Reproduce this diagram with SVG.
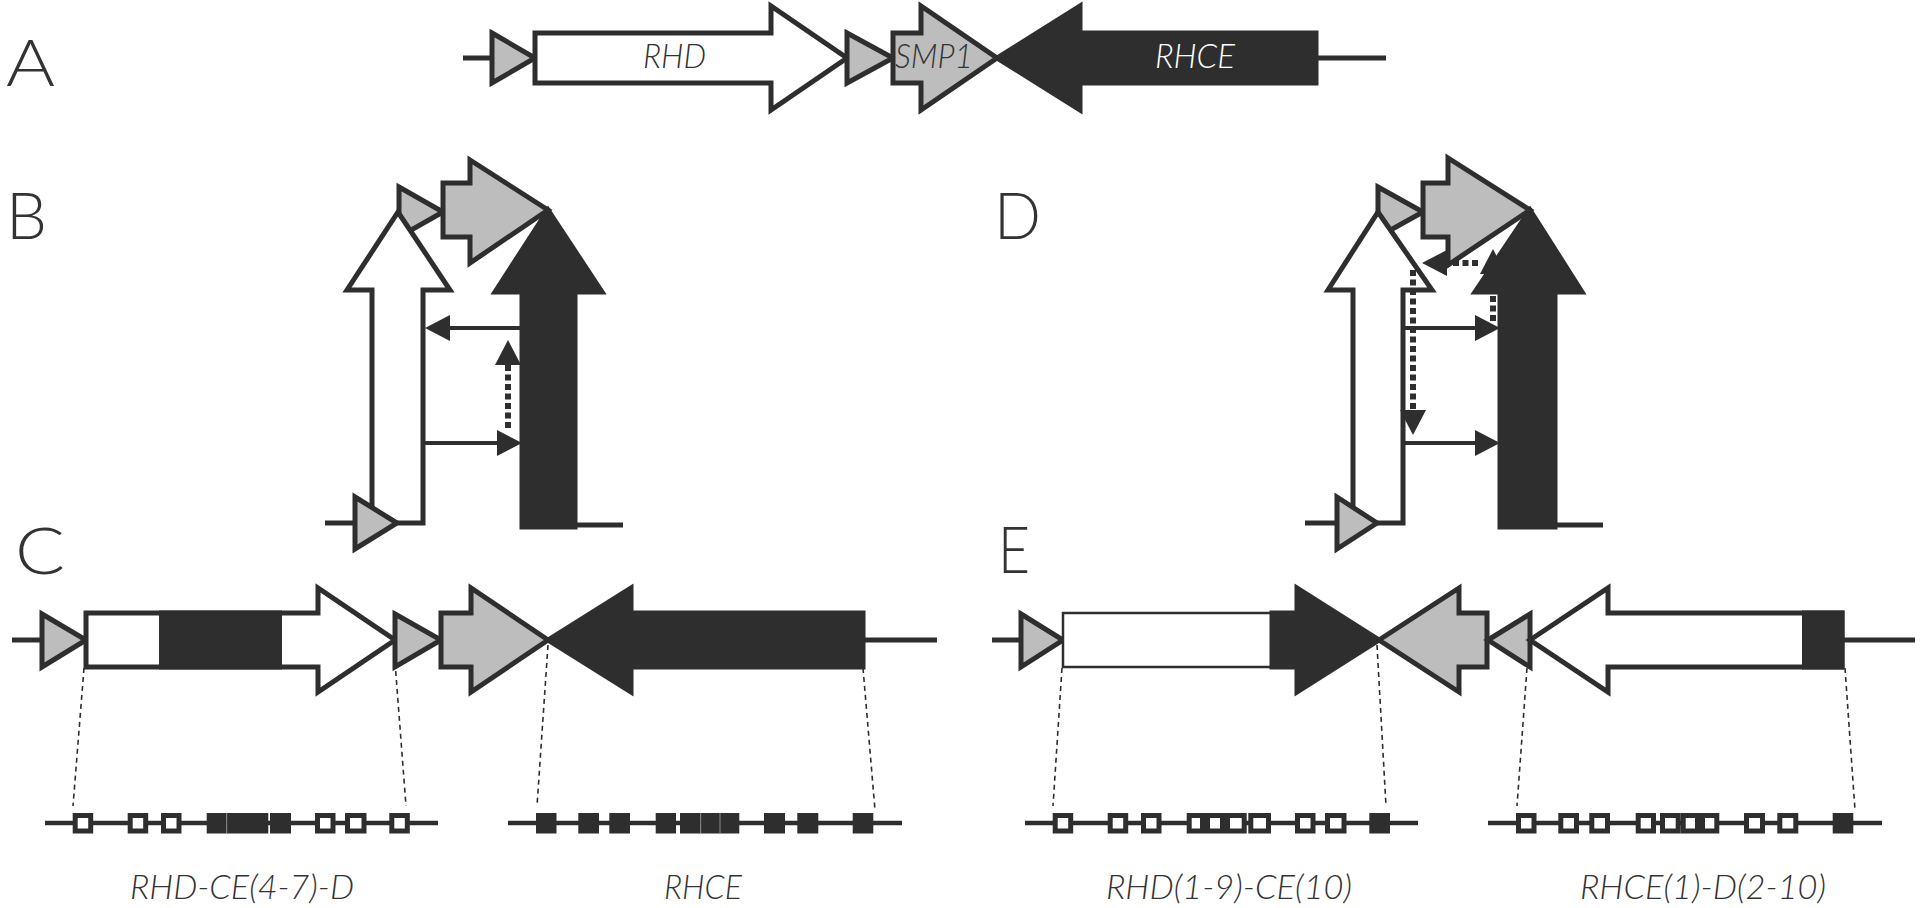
<svg xmlns="http://www.w3.org/2000/svg" width="1920" height="908" viewBox="0 0 1920 908">
<style>
.o{stroke:#2e2e2e;stroke-width:5;stroke-linejoin:miter;stroke-miterlimit:6}
.w{fill:#fff}.g{fill:#bdbdbd}.k{fill:#2e2e2e}
.ln{stroke:#2e2e2e;stroke-width:5;fill:none}
.ar{stroke:#2e2e2e;stroke-width:4;fill:none}
.dsh{stroke:#2e2e2e;stroke-width:6;stroke-dasharray:6 3.5;fill:none}
.proj{stroke:#2e2e2e;stroke-width:1.6;stroke-dasharray:5 4;fill:none}
.rl{stroke:#2e2e2e;stroke-width:4.5;fill:none}
.ew{fill:#fff;stroke:#2e2e2e;stroke-width:5}
.ek{fill:#2e2e2e}
.sep{stroke:#8a8a8a;stroke-width:1}
.let{font-family:Lato,"Liberation Sans",sans-serif;font-weight:300;font-size:66px;fill:#333}
.gn{font-family:Lato,"Liberation Sans",sans-serif;font-weight:300;font-style:italic;font-size:34px}
.lab{font-family:Lato,"Liberation Sans",sans-serif;font-weight:300;font-style:italic;font-size:34px;fill:#333}
</style>
<defs>
<marker id="ah" viewBox="0 0 25 26" markerWidth="25" markerHeight="26" refX="0" refY="13" orient="auto" markerUnits="userSpaceOnUse"><path d="M0,0 L25,13 L0,26 z" fill="#2e2e2e"/></marker>
</defs>
<rect width="1920" height="908" fill="#fff"/>

<g id="letters">
<text class="let" x="6" y="86" textLength="49" lengthAdjust="spacingAndGlyphs">A</text>
<text class="let" x="6" y="239" textLength="41" lengthAdjust="spacingAndGlyphs">B</text>
<text class="let" x="15" y="574" textLength="50" lengthAdjust="spacingAndGlyphs">C</text>
<text class="let" x="994" y="239" textLength="47" lengthAdjust="spacingAndGlyphs">D</text>
<text class="let" x="998" y="573" textLength="32" lengthAdjust="spacingAndGlyphs">E</text>
</g>

<!-- Panel A -->
<g id="A-locus">
<line class="ln" x1="463" y1="58" x2="492" y2="58"/>
<line class="ln" x1="1316" y1="58" x2="1386" y2="58"/>
<polygon class="o g" points="492,33 535,58 492,83"/>
<polygon class="o w" points="535,33 771,33 771,6 847,58 771,110 771,83 535,83"/>
<polygon class="o g" points="847,33 893,58 847,83"/>
<polygon class="o k" points="997,58 1080,6 1080,33 1316,33 1316,83 1080,83 1080,110"/>
<polygon class="o g" points="893,33 921,33 921,6 997,58 921,110 921,83 893,83"/>
<text class="gn" x="643" y="68" textLength="63" lengthAdjust="spacingAndGlyphs" fill="#333">RHD</text>
<text class="gn" x="895" y="68" textLength="78" lengthAdjust="spacingAndGlyphs" fill="#333">SMP1</text>
<text class="gn" x="1155" y="68" textLength="80" lengthAdjust="spacingAndGlyphs" fill="#fff">RHCE</text>
</g>

<!-- Panel B -->
<g id="B-loop">
<line class="ln" x1="325" y1="523" x2="357" y2="523"/>
<line class="ln" x1="550" y1="525" x2="623" y2="525"/>
<polygon class="o g" points="399,187 443,212 399,237"/>
<polygon class="o w" points="372,523 372,290 347,290 398,212 450,290 423,290 423,523"/>
<polygon class="o g" points="355,497 397,523 355,549"/>
<polygon class="o k" points="548,210 602,292 575,292 575,527 522,527 522,292 495,292"/>
<polygon class="o g" points="443,183 470,183 470,160 548,210 470,263 470,237 443,237"/>
</g>

<!-- Panel D -->
<g id="D-loop">
<line class="ln" x1="1305" y1="523" x2="1339" y2="523"/>
<line class="ln" x1="1530" y1="525" x2="1603" y2="525"/>
<polygon class="o g" points="1378,187 1423,212 1378,237"/>
<polygon class="o w" points="1353,523 1353,290 1328,290 1378,212 1432,290 1403,290 1403,523"/>
<polygon class="o g" points="1337,497 1377,523 1337,549"/>
<polygon class="o k" points="1530,210 1582,292 1555,292 1555,527 1500,527 1500,292 1475,292"/>
<polygon class="o g" points="1423,183 1448,183 1448,158 1530,210 1448,265 1448,237 1423,237"/>
</g>

<g id="connectors">
<line class="ar" x1="522" y1="328" x2="450" y2="328" marker-end="url(#ah)"/>
<line class="ar" x1="423" y1="443" x2="497" y2="443" marker-end="url(#ah)"/>
<line class="dsh" x1="508" y1="428" x2="508" y2="365" marker-end="url(#ah)"/>
<line class="ar" x1="1403" y1="328" x2="1475" y2="328" marker-end="url(#ah)"/>
<line class="ar" x1="1403" y1="443" x2="1475" y2="443" marker-end="url(#ah)"/>
<line class="dsh" x1="1493" y1="321" x2="1493" y2="274" marker-end="url(#ah)"/>
<line class="dsh" x1="1478" y1="263" x2="1447" y2="263" marker-end="url(#ah)"/>
<line class="dsh" x1="1413" y1="270" x2="1413" y2="410" marker-end="url(#ah)"/>
<!-- projection lines -->
<line class="proj" x1="84" y1="668" x2="73" y2="806"/>
<line class="proj" x1="395" y1="662" x2="406" y2="806"/>
<line class="proj" x1="548" y1="645" x2="537" y2="806"/>
<line class="proj" x1="863" y1="668" x2="875" y2="810"/>
<line class="proj" x1="1062" y1="668" x2="1053" y2="806"/>
<line class="proj" x1="1377" y1="645" x2="1386" y2="806"/>
<line class="proj" x1="1527" y1="668" x2="1517" y2="806"/>
<line class="proj" x1="1845" y1="668" x2="1855" y2="810"/>
</g>

<!-- Panel C -->
<g id="C-locus">
<line class="ln" x1="12" y1="640" x2="44" y2="640"/>
<line class="ln" x1="863" y1="640" x2="937" y2="640"/>
<polygon class="o g" points="42,614 86,640 42,667"/>
<polygon class="o w" points="86,613 318,613 318,588 395,640 318,692 318,667 86,667"/>
<rect class="k" x="159" y="610.5" width="123" height="59"/>
<polygon class="o g" points="395,614 441,640 395,667"/>
<polygon class="o k" points="548,640 631,588 631,613 863,613 863,667 631,667 631,692"/>
<polygon class="o g" points="441,613 471,613 471,588 548,640 471,692 471,667 441,667"/>
</g>

<!-- Panel E -->
<g id="E-locus">
<line class="ln" x1="992" y1="640" x2="1023" y2="640"/>
<line class="ln" x1="1842" y1="640" x2="1915" y2="640"/>
<polygon class="o g" points="1021,614 1063,640 1021,667"/>
<rect x="1063" y="613" width="210" height="54" fill="#fff" stroke="#2e2e2e" stroke-width="2.5"/>
<polygon class="o k" points="1272,613 1297,613 1297,588 1379,640 1297,692 1297,667 1272,667"/>
<polygon class="o g" points="1379,640 1459,588 1459,613 1487,613 1487,667 1459,667 1459,692"/>
<polygon class="o g" points="1488,640 1530,614 1530,667"/>
<polygon class="o w" points="1530,640 1608,588 1608,613 1842,613 1842,667 1608,667 1608,692"/>
<rect class="k" x="1802" y="610.5" width="42.5" height="59"/>
</g>

<!-- Exon rows -->
<g id="row-RHD-CE-4-7-D">
<line class="rl" x1="45" y1="823" x2="438" y2="823"/>
<rect class="ew" x="75.2" y="815.5" width="15.5" height="15.5"/>
<rect class="ew" x="130.2" y="815.5" width="15.5" height="15.5"/>
<rect class="ew" x="163.5" y="815.5" width="15.5" height="15.5"/>
<rect class="ek" x="206.7" y="813" width="20" height="20.5"/>
<rect class="ek" x="226.7" y="813" width="18.3" height="20.5"/>
<rect class="ek" x="245" y="813" width="23.3" height="20.5"/>
<rect class="ek" x="270" y="813" width="21" height="20.5"/>
<line class="sep" x1="226.7" y1="813" x2="226.7" y2="833.5"/>
<rect class="ew" x="317.5" y="815.5" width="15.5" height="15.5"/>
<rect class="ew" x="347.5" y="815.5" width="16.5" height="15.5"/>
<rect class="ew" x="391.8" y="815.5" width="15.5" height="15.5"/>
<text class="lab" x="130" y="899" textLength="224" lengthAdjust="spacingAndGlyphs">RHD-CE(4-7)-D</text>
</g>

<g id="row-RHCE">
<line class="rl" x1="508" y1="823" x2="902" y2="823"/>
<rect class="ek" x="536" y="813" width="20.5" height="20.5"/>
<rect class="ek" x="578.3" y="813" width="20.7" height="20.5"/>
<rect class="ek" x="609.3" y="813" width="20.7" height="20.5"/>
<rect class="ek" x="655.7" y="813" width="20.3" height="20.5"/>
<rect class="ek" x="680" y="813" width="20.7" height="20.5"/>
<rect class="ek" x="700.7" y="813" width="19.3" height="20.5"/>
<rect class="ek" x="720" y="813" width="19.3" height="20.5"/>
<line class="sep" x1="700.7" y1="813" x2="700.7" y2="833.5"/>
<line class="sep" x1="720" y1="813" x2="720" y2="833.5"/>
<rect class="ek" x="764" y="813" width="21" height="20.5"/>
<rect class="ek" x="797.3" y="813" width="21" height="20.5"/>
<rect class="ek" x="852.7" y="813" width="20.6" height="20.5"/>
<text class="lab" x="664" y="899" textLength="78" lengthAdjust="spacingAndGlyphs">RHCE</text>
</g>

<g id="row-RHD-1-9-CE-10">
<line class="rl" x1="1025" y1="823" x2="1418" y2="823"/>
<rect class="ew" x="1055.2" y="815.5" width="15.5" height="15.5"/>
<rect class="ew" x="1110.2" y="815.5" width="15.5" height="15.5"/>
<rect class="ew" x="1143.5" y="815.5" width="15.5" height="15.5"/>
<rect class="ew" x="1189.2" y="815.5" width="13.3" height="15.5"/>
<rect class="ew" x="1207.5" y="815.5" width="15" height="15.5"/>
<rect class="ew" x="1227.5" y="815.5" width="16.7" height="15.5"/>
<rect class="ew" x="1250.8" y="815.5" width="17.7" height="15.5"/>
<rect class="ew" x="1297.5" y="815.5" width="15.5" height="15.5"/>
<rect class="ew" x="1327.5" y="815.5" width="16.5" height="15.5"/>
<rect class="ek" x="1369.3" y="813" width="20.7" height="20.5"/>
<text class="lab" x="1106" y="899" textLength="246" lengthAdjust="spacingAndGlyphs">RHD(1-9)-CE(10)</text>
</g>

<g id="row-RHCE-1-D-2-10">
<line class="rl" x1="1488" y1="823" x2="1882" y2="823"/>
<rect class="ew" x="1518.5" y="815.5" width="15.5" height="15.5"/>
<rect class="ew" x="1560.8" y="815.5" width="15.7" height="15.5"/>
<rect class="ew" x="1591.8" y="815.5" width="15.7" height="15.5"/>
<rect class="ew" x="1638.2" y="815.5" width="15.3" height="15.5"/>
<rect class="ew" x="1662.5" y="815.5" width="15.7" height="15.5"/>
<rect class="ew" x="1683.2" y="815.5" width="14.3" height="15.5"/>
<rect class="ew" x="1702.5" y="815.5" width="14.3" height="15.5"/>
<rect class="ew" x="1746.5" y="815.5" width="16" height="15.5"/>
<rect class="ew" x="1779.8" y="815.5" width="16" height="15.5"/>
<rect class="ek" x="1832.7" y="813" width="20.6" height="20.5"/>
<text class="lab" x="1580" y="899" textLength="246" lengthAdjust="spacingAndGlyphs">RHCE(1)-D(2-10)</text>
</g>
</svg>
